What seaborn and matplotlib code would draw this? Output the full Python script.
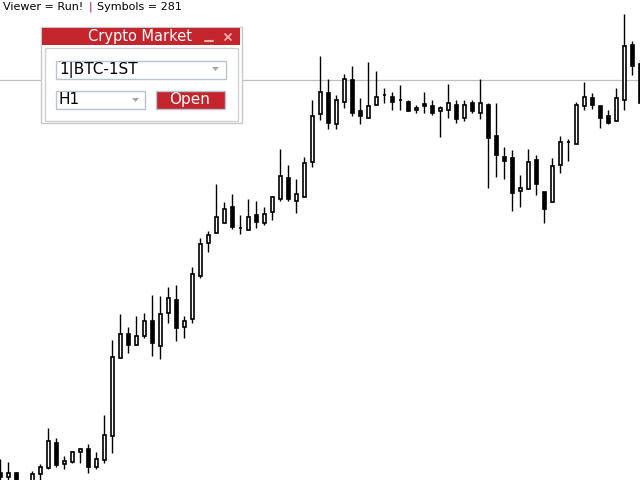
import numpy as np
import pandas as pd
import matplotlib
matplotlib.use("Agg")
import matplotlib.pyplot as plt
from matplotlib.patches import Rectangle, Polygon
import seaborn as sns

# H1 candles (price units = pixels above the bottom edge)
opens = [7, 3, 7, -6, -2, 6, 12, 37, 16, 18, 28, 31, 13, 20, 44, 122, 146, 135, 144, 159,
         134, 167, 180, 153, 161, 204, 237, 247, 257, 273, 252, 250, 265, 257, 268, 281, 302, 279, 283, 318,
         366, 387, 356, 378, 400, 369, 362, 375, 385, 383, 380, 378, 370, 376, 374, 369, 370, 375, 362, 377,
         367, 375, 344, 323, 322, 289, 291, 320, 288, 278, 315, 338, 336, 374, 382, 374, 364, 359, 380, 435,
         416]
highs = [21, 18, 8, -1, 9, 16, 52, 42, 24, 29, 32, 36, 28, 65, 140, 166, 153, 164, 167, 185,
         184, 193, 195, 164, 213, 242, 249, 296, 278, 286, 265, 281, 279, 273, 284, 331, 315, 301, 323, 380,
         424, 401, 385, 406, 414, 382, 418, 409, 392, 388, 395, 380, 375, 388, 380, 374, 396, 380, 380, 380,
         401, 377, 377, 333, 330, 305, 331, 325, 288, 322, 344, 341, 378, 398, 387, 374, 370, 392, 466, 439,
         420]
lows = [-2, -2, -5, -8, -4, -2, 11, 13, 11, 17, 17, 7, 11, 17, 27, 122, 127, 135, 142, 124,
        121, 157, 139, 142, 157, 202, 228, 247, 257, 251, 246, 250, 252, 255, 260, 279, 279, 267, 283, 313,
        360, 351, 351, 372, 364, 356, 362, 375, 377, 370, 370, 369, 367, 367, 365, 343, 362, 357, 359, 367,
        361, 292, 303, 301, 269, 273, 291, 285, 257, 278, 307, 319, 336, 370, 371, 352, 356, 359, 370, 405,
        377]
closes = [3, 7, -2, -3, 6, 13, 39, 15, 19, 28, 31, 13, 21, 45, 123, 146, 135, 144, 159, 137,
          166, 182, 152, 159, 206, 236, 245, 263, 271, 253, 252, 263, 258, 266, 283, 304, 281, 286, 317, 364,
          388, 357, 380, 401, 367, 364, 374, 383, 385, 378, 380, 369, 372, 374, 367, 372, 377, 361, 375, 369,
          377, 342, 325, 319, 287, 292, 318, 296, 271, 314, 338, 338, 375, 383, 375, 362, 357, 382, 434, 414,
          377]
price_line = 400

df = pd.DataFrame({"open": opens, "high": highs, "low": lows, "close": closes})
df["bar"] = np.arange(len(df))
df["bull"] = df["close"] >= df["open"]
df["body_lo"] = df[["open", "close"]].min(axis=1)
df["body_h"] = (df["close"] - df["open"]).abs().clip(lower=0.01)

sns.set_theme(style="white")
plt.rcParams["font.family"] = ["DejaVu Sans"]

fig = plt.figure(figsize=(6.4, 4.8), dpi=100)
fig.patch.set_facecolor("white")
ax = fig.add_axes([0, 0, 1, 1])
ax.set_facecolor("white")

ax.axhline(price_line, color="#C0C0C0", linewidth=0.9, zorder=1)
ax.vlines(df["bar"], df["low"], df["high"], color="black", linewidth=1.0, zorder=2)
ax.bar(df["bar"], df["body_h"], bottom=df["body_lo"], width=0.48,
       color=np.where(df["bull"], "white", "black"), edgecolor="black",
       linewidth=1.2, zorder=3)

ax.set_xlim(-0.06, 79.94)
ax.set_ylim(0, 480)
ax.set_axis_off()
sns.despine(ax=ax, left=True, bottom=True)

# UI overlay in pixel coordinates
ui = fig.add_axes([0, 0, 1, 1])
ui.set_xlim(0, 640)
ui.set_ylim(480, 0)
ui.set_axis_off()
ui.patch.set_alpha(0)

red = "#C4242B"
ui.text(3, 7, "Viewer = Run!", fontsize=8, color="black", va="center", ha="left")
ui.text(89, 7, "|", fontsize=8, color="#800080", va="center", ha="left")
ui.text(97, 7, "Symbols = 281", fontsize=8, color="black", va="center", ha="left")

ui.add_patch(Rectangle((40.5, 26.5), 201, 96, facecolor="white", edgecolor="#C8C8C8", linewidth=1))
ui.add_patch(Rectangle((42, 28), 198, 17, facecolor=red, edgecolor="none"))
ui.text(140, 37, "Crypto Market", fontsize=10.5, color="white", va="center", ha="center")
ui.plot([205, 213], [41, 41], color="#E8B0B0", linewidth=1.5)
ui.plot([225, 231], [34, 40], color="#E8B0B0", linewidth=1.3)
ui.plot([225, 231], [40, 34], color="#E8B0B0", linewidth=1.3)
ui.add_patch(Rectangle((44.5, 47.5), 193, 73, facecolor="white", edgecolor="#D0D0D0", linewidth=1))

ui.add_patch(Rectangle((55.5, 60.5), 170, 18, facecolor="white", edgecolor="#B8C4D0", linewidth=1))
ui.text(59, 69.5, "1|BTC-1ST", fontsize=11, color="black", va="center", ha="left")
ui.add_patch(Polygon([[212, 67], [219, 67], [215.5, 71]], facecolor="#A8A8A8", edgecolor="none"))

ui.add_patch(Rectangle((55.5, 90.5), 89, 18, facecolor="white", edgecolor="#B8C4D0", linewidth=1))
ui.text(59, 99.5, "H1", fontsize=11, color="black", va="center", ha="left")
ui.add_patch(Polygon([[132, 98], [139, 98], [135.5, 102]], facecolor="#A8A8A8", edgecolor="none"))

ui.add_patch(Rectangle((155.5, 90.5), 69, 18, facecolor=red, edgecolor="#B8C4D0", linewidth=1))
ui.text(190, 99.5, "Open", fontsize=11, color="white", va="center", ha="center")

fig.savefig("out.png", dpi=100)
